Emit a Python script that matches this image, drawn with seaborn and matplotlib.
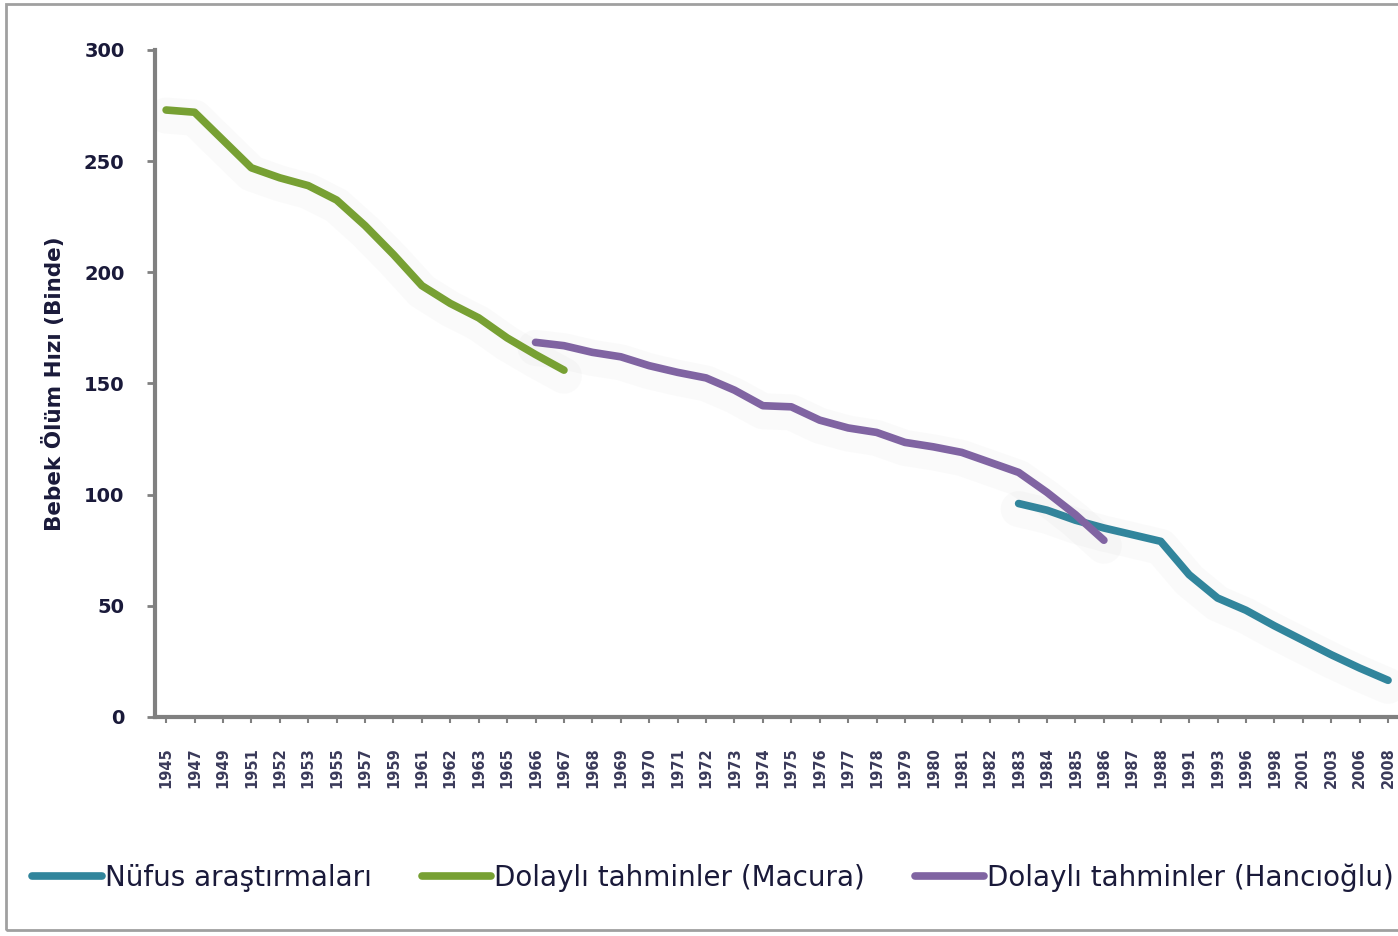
import numpy as np
import pandas as pd
import matplotlib
matplotlib.use("Agg")
import matplotlib.pyplot as plt
import matplotlib.patheffects as pe
from matplotlib.lines import Line2D
import seaborn as sns

# years on the x axis (categorical, uneven spacing)
years = ["1945", "1947", "1949", "1951", "1952", "1953", "1955", "1957", "1959", "1961",
         "1962", "1963", "1965", "1966", "1967", "1968", "1969", "1970", "1971", "1972",
         "1973", "1974", "1975", "1976", "1977", "1978", "1979", "1980", "1981", "1982",
         "1983", "1984", "1985", "1986", "1987", "1988", "1991", "1993", "1996", "1998",
         "2001", "2003", "2006", "2008"]

# Dolaylı tahminler (Macura): 1945-1967
macura_years = years[0:15]
macura = [273, 272, 259.5, 247, 242.5, 239, 232.5, 221, 208, 194, 186, 179.5, 170.5, 163, 156]

# Dolaylı tahminler (Hancıoğlu): 1966-1986
hanci_years = years[13:34]
hanci = [168.5, 167, 164, 162, 158, 155, 152.5, 147, 140, 139.5, 133.5, 130, 128,
         123.5, 121.5, 119, 114.5, 110, 101, 91, 79.5]

# Nüfus araştırmaları: 1983-2008
nufus_years = years[30:44]
nufus = [96, 93, 88.5, 85, 82, 79, 64, 53.5, 48, 41, 34.5, 28, 22, 16.5]

labels = ["Nüfus araştırmaları", "Dolaylı tahminler (Macura)", "Dolaylı tahminler (Hancıoğlu)"]
colors = ["#31859C", "#77A033", "#8064A2"]

pos = {y: i for i, y in enumerate(years)}
df_nufus = pd.DataFrame({"x": [pos[y] for y in nufus_years], "val": nufus})
df_macura = pd.DataFrame({"x": [pos[y] for y in macura_years], "val": macura})
df_hanci = pd.DataFrame({"x": [pos[y] for y in hanci_years], "val": hanci})

sns.set_style("white")
plt.rcParams['font.family'] = ['DejaVu Sans']

fig = plt.figure(figsize=(13.98, 9.36), dpi=100)
ax = fig.add_axes([0.111, 0.234, 0.889, 0.7126])

# faint excel-like glow under the lines
glow = [pe.SimpleLineShadow(offset=(0, -4), shadow_color="0.5", alpha=0.035, linewidth=26),
        pe.Normal()]

# draw order: teal, purple, green (green on top)
sns.lineplot(data=df_nufus, x="x", y="val", color=colors[0], linewidth=5.5,
             ax=ax, path_effects=glow, legend=False)
sns.lineplot(data=df_hanci, x="x", y="val", color=colors[2], linewidth=5.5,
             ax=ax, path_effects=glow, legend=False)
sns.lineplot(data=df_macura, x="x", y="val", color=colors[1], linewidth=5.5,
             ax=ax, path_effects=glow, legend=False)

ax.set_ylim(0, 300)
ax.set_xlim(-0.385, 43.35)
ax.set_yticks([0, 50, 100, 150, 200, 250, 300])
ax.set_xticks(range(len(years)))
ax.set_xticklabels(years, rotation=90, fontsize=10.5, color="#3a3a5a", fontweight="bold")
ax.tick_params(axis="y", labelsize=14, labelcolor="#1a1a3a", length=6, width=2,
               color="#808080", left=True, pad=16)
ax.tick_params(axis="x", length=4, width=1.5, color="#808080", bottom=True, pad=18)
for lbl in ax.get_yticklabels():
    lbl.set_fontweight("bold")

for side in ["top", "right"]:
    ax.spines[side].set_visible(False)
for side in ["left", "bottom"]:
    ax.spines[side].set_color("#808080")
    ax.spines[side].set_linewidth(3)

ax.set_xlabel("")
ax.set_ylabel("Bebek Ölüm Hızı (Binde)", fontsize=15.5, fontweight="bold",
              color="#1a1a3a", labelpad=14)

handles = [Line2D([], [], color=c, linewidth=5.5) for c in colors]
ax.legend(handles, labels,
          loc="center", bbox_to_anchor=(0.51, 0.0625), bbox_transform=fig.transFigure,
          ncol=3, frameon=False, fontsize=20, handlelength=2.5, handletextpad=0.1,
          columnspacing=1.8, labelcolor="#1a1a3a")

# outer frame of the chart area
fig.patches.append(plt.Rectangle((0.004, 0.006), 1.2, 0.99, transform=fig.transFigure,
                                 fill=False, edgecolor="#a0a0a0", linewidth=2))

fig.savefig("out.png", dpi=100)
